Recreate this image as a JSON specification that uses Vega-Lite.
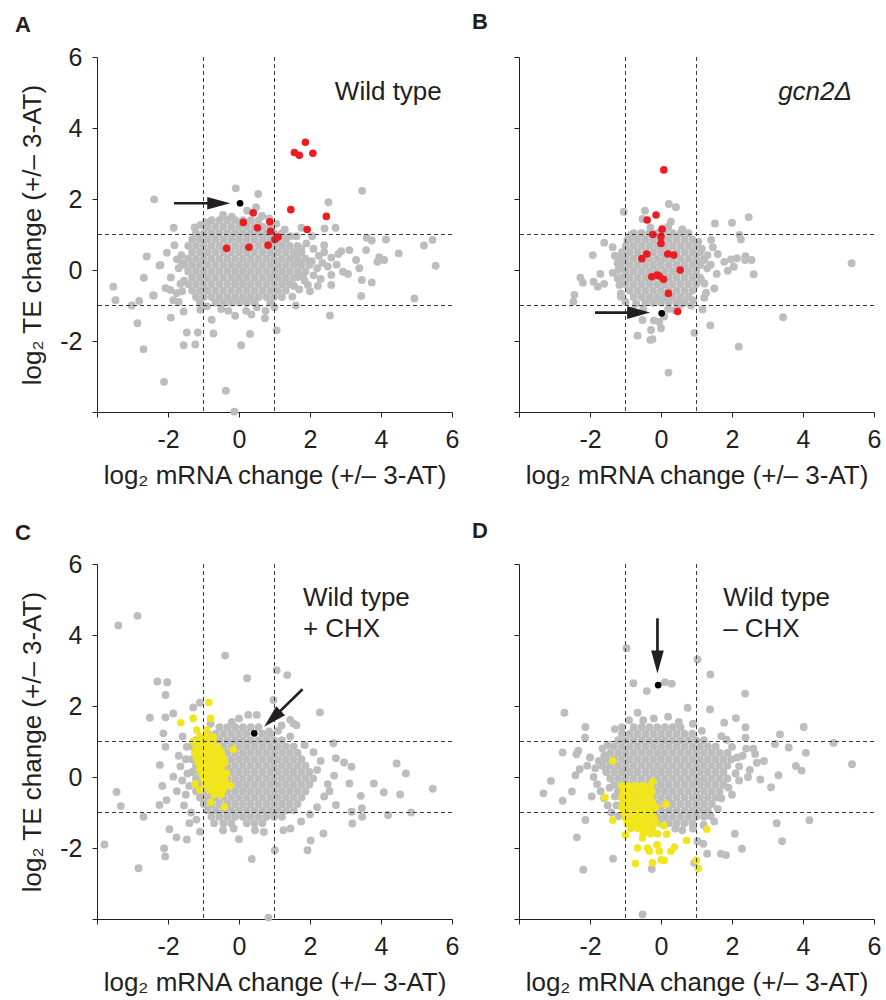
{
"$schema":"https://vega.github.io/schema/vega-lite/v6.json",
"padding":{"left":15,"top":10,"right":2,"bottom":2},
"columns":2,
"spacing":{"row":152,"column":67},
"bounds":"flush",
"config":{"view":{"stroke":null},"font":"Liberation Sans",
"axis":{"domainColor":"#231f20","tickColor":"#231f20","labelColor":"#231f20","titleColor":"#231f20","labelFont":"Liberation Sans","titleFont":"Liberation Sans","labelFontSize":25,"titleFontSize":26,"titleFontWeight":"normal","grid":false,"domainWidth":1,"tickWidth":1,"tickSize":5,"labelFlush":false,"labelOverlap":false}},
"datasets":{
"a":[{"x":-0.77,"y":1.4},{"x":-0.55,"y":1.4},{"x":-0.33,"y":1.4},{"x":-0.11,"y":1.4},{"x":0.11,"y":1.4},{"x":0.33,"y":1.4},{"x":0.55,"y":1.4},
{"x":-0.88,"y":1.22},{"x":-0.66,"y":1.22},{"x":-0.44,"y":1.22},{"x":-0.22,"y":1.22},{"x":0,"y":1.22},{"x":0.22,"y":1.22},{"x":0.44,"y":1.22},{"x":0.66,"y":1.22},{"x":0.88,"y":1.22},
{"x":-1.21,"y":1.04},{"x":-0.99,"y":1.04},{"x":-0.77,"y":1.04},{"x":-0.55,"y":1.04},{"x":-0.33,"y":1.04},{"x":-0.11,"y":1.04},{"x":0.11,"y":1.04},{"x":0.33,"y":1.04},{"x":0.55,"y":1.04},{"x":0.77,"y":1.04},{"x":0.99,"y":1.04},{"x":1.21,"y":1.04},
{"x":-1.32,"y":0.86},{"x":-1.1,"y":0.86},{"x":-0.88,"y":0.86},{"x":-0.66,"y":0.86},{"x":-0.44,"y":0.86},{"x":-0.22,"y":0.86},{"x":0,"y":0.86},{"x":0.22,"y":0.86},{"x":0.44,"y":0.86},{"x":0.66,"y":0.86},{"x":0.88,"y":0.86},{"x":1.1,"y":0.86},{"x":1.32,"y":0.86},
{"x":-1.43,"y":0.68},{"x":-1.21,"y":0.68},{"x":-0.99,"y":0.68},{"x":-0.77,"y":0.68},{"x":-0.55,"y":0.68},{"x":-0.33,"y":0.68},{"x":-0.11,"y":0.68},{"x":0.11,"y":0.68},{"x":0.33,"y":0.68},{"x":0.55,"y":0.68},{"x":0.77,"y":0.68},{"x":0.99,"y":0.68},{"x":1.21,"y":0.68},{"x":1.43,"y":0.68},{"x":1.65,"y":0.68},
{"x":-1.32,"y":0.5},{"x":-1.1,"y":0.5},{"x":-0.88,"y":0.5},{"x":-0.66,"y":0.5},{"x":-0.44,"y":0.5},{"x":-0.22,"y":0.5},{"x":0,"y":0.5},{"x":0.22,"y":0.5},{"x":0.44,"y":0.5},{"x":0.66,"y":0.5},{"x":0.88,"y":0.5},{"x":1.1,"y":0.5},{"x":1.32,"y":0.5},{"x":1.54,"y":0.5},{"x":1.76,"y":0.5},
{"x":-1.43,"y":0.32},{"x":-1.21,"y":0.32},{"x":-0.99,"y":0.32},{"x":-0.77,"y":0.32},{"x":-0.55,"y":0.32},{"x":-0.33,"y":0.32},{"x":-0.11,"y":0.32},{"x":0.11,"y":0.32},{"x":0.33,"y":0.32},{"x":0.55,"y":0.32},{"x":0.77,"y":0.32},{"x":0.99,"y":0.32},{"x":1.21,"y":0.32},{"x":1.43,"y":0.32},{"x":1.65,"y":0.32},{"x":1.87,"y":0.32},
{"x":-1.54,"y":0.14},{"x":-1.32,"y":0.14},{"x":-1.1,"y":0.14},{"x":-0.88,"y":0.14},{"x":-0.66,"y":0.14},{"x":-0.44,"y":0.14},{"x":-0.22,"y":0.14},{"x":0,"y":0.14},{"x":0.22,"y":0.14},{"x":0.44,"y":0.14},{"x":0.66,"y":0.14},{"x":0.88,"y":0.14},{"x":1.1,"y":0.14},{"x":1.32,"y":0.14},{"x":1.54,"y":0.14},{"x":1.76,"y":0.14},{"x":1.98,"y":0.14},
{"x":-1.43,"y":-0.04},{"x":-1.21,"y":-0.04},{"x":-0.99,"y":-0.04},{"x":-0.77,"y":-0.04},{"x":-0.55,"y":-0.04},{"x":-0.33,"y":-0.04},{"x":-0.11,"y":-0.04},{"x":0.11,"y":-0.04},{"x":0.33,"y":-0.04},{"x":0.55,"y":-0.04},{"x":0.77,"y":-0.04},{"x":0.99,"y":-0.04},{"x":1.21,"y":-0.04},{"x":1.43,"y":-0.04},{"x":1.65,"y":-0.04},{"x":1.87,"y":-0.04},
{"x":-1.32,"y":-0.22},{"x":-1.1,"y":-0.22},{"x":-0.88,"y":-0.22},{"x":-0.66,"y":-0.22},{"x":-0.44,"y":-0.22},{"x":-0.22,"y":-0.22},{"x":0,"y":-0.22},{"x":0.22,"y":-0.22},{"x":0.44,"y":-0.22},{"x":0.66,"y":-0.22},{"x":0.88,"y":-0.22},{"x":1.1,"y":-0.22},{"x":1.32,"y":-0.22},{"x":1.54,"y":-0.22},
{"x":-1.43,"y":-0.4},{"x":-1.21,"y":-0.4},{"x":-0.99,"y":-0.4},{"x":-0.77,"y":-0.4},{"x":-0.55,"y":-0.4},{"x":-0.33,"y":-0.4},{"x":-0.11,"y":-0.4},{"x":0.11,"y":-0.4},{"x":0.33,"y":-0.4},{"x":0.55,"y":-0.4},{"x":0.77,"y":-0.4},{"x":0.99,"y":-0.4},{"x":1.21,"y":-0.4},{"x":1.43,"y":-0.4},
{"x":-1.32,"y":-0.58},{"x":-1.1,"y":-0.58},{"x":-0.88,"y":-0.58},{"x":-0.66,"y":-0.58},{"x":-0.44,"y":-0.58},{"x":-0.22,"y":-0.58},{"x":0,"y":-0.58},{"x":0.22,"y":-0.58},{"x":0.44,"y":-0.58},{"x":0.66,"y":-0.58},{"x":0.88,"y":-0.58},{"x":1.1,"y":-0.58},{"x":1.32,"y":-0.58},
{"x":-1.21,"y":-0.76},{"x":-0.99,"y":-0.76},{"x":-0.77,"y":-0.76},{"x":-0.55,"y":-0.76},{"x":-0.33,"y":-0.76},{"x":-0.11,"y":-0.76},{"x":0.11,"y":-0.76},{"x":0.33,"y":-0.76},{"x":0.55,"y":-0.76},{"x":0.77,"y":-0.76},{"x":0.99,"y":-0.76},{"x":1.21,"y":-0.76},
{"x":-1.1,"y":-0.92},{"x":-0.66,"y":-0.92},{"x":-0.44,"y":-0.92},{"x":-0.22,"y":-0.92},{"x":0,"y":-0.92},{"x":0.22,"y":-0.92},{"x":0.44,"y":-0.92},{"x":0.88,"y":-0.92},
{"x":-0.09,"y":2.3},{"x":0.54,"y":2.14},{"x":-2.39,"y":1.99},{"x":3.47,"y":2.23},{"x":2.52,"y":1.91},{"x":0.48,"y":1.77},{"x":0.23,"y":1.67},{"x":0.65,"y":1.52},{"x":-1.84,"y":1.19},{"x":-1.09,"y":1.26},{"x":-0.45,"y":1.55},{"x":-0.2,"y":1.5},{"x":1.05,"y":1.3},{"x":1.29,"y":1.14},{"x":1.76,"y":1.19},{"x":2.41,"y":1.17},{"x":2.72,"y":1.19},{"x":1.62,"y":0.95},{"x":2.06,"y":0.95},{"x":1.45,"y":0.95},{"x":3.6,"y":0.91},{"x":3.74,"y":0.83},{"x":4.14,"y":0.86},{"x":5.21,"y":0.69},{"x":5.45,"y":0.85},{"x":5.54,"y":0.12},{"x":4.5,"y":0.47},{"x":3.95,"y":0.36},{"x":4.09,"y":0.28},{"x":3.9,"y":0.23},{"x":3.58,"y":0.56},{"x":3.11,"y":0.56},{"x":2.88,"y":0.53},{"x":3.3,"y":0.28},{"x":3.39,"y":0.05},{"x":3.07,"y":-0.11},{"x":2.93,"y":-0.05},{"x":2.6,"y":-0.14},{"x":2.6,"y":-0.42},{"x":3.46,"y":-0.28},{"x":3.74,"y":-0.35},{"x":3.44,"y":-0.73},{"x":4.94,"y":-0.8},{"x":2.56,"y":-1.28},{"x":2.22,"y":-0.45},{"x":1.94,"y":-0.42},{"x":1.6,"y":-1.0},{"x":1.9,"y":0.75},{"x":2.1,"y":0.6},{"x":2.25,"y":0.4},{"x":2.35,"y":0.2},{"x":2.2,"y":0.05},{"x":2.1,"y":-0.15},{"x":1.85,"y":-0.3},{"x":1.7,"y":-0.55},{"x":2.4,"y":0.5},{"x":2.6,"y":0.35},{"x":2.75,"y":0.15},{"x":2.5,"y":0.1},{"x":2.05,"y":0.25},{"x":1.8,"y":-0.15},{"x":2.0,"y":-0.6},{"x":1.5,"y":-0.75},{"x":2.3,"y":-0.25},{"x":2.8,"y":0.45},{"x":2.4,"y":0.7},{"x":1.75,"y":0.6},
{"x":-2.6,"y":0.38},{"x":-2.68,"y":-0.22},{"x":-3.54,"y":-0.47},{"x":-3.48,"y":-0.85},{"x":-3.02,"y":-1.0},{"x":-2.81,"y":-0.87},{"x":-2.42,"y":-0.72},{"x":-2.24,"y":0.13},{"x":-2.03,"y":0.49},{"x":-1.82,"y":0.7},{"x":-2.21,"y":0.14},{"x":-2.4,"y":-0.72},{"x":-2.07,"y":-0.51},{"x":-1.93,"y":-0.56},{"x":-1.75,"y":-0.65},{"x":-1.92,"y":-0.21},{"x":-1.7,"y":0.05},{"x":-1.65,"y":-0.39},{"x":-1.56,"y":-1.17},{"x":-1.92,"y":-1.34},{"x":-1.09,"y":-1.12},{"x":-0.77,"y":-1.4},{"x":-0.72,"y":-1.79},{"x":-1.47,"y":-1.76},{"x":-1.16,"y":-1.76},{"x":-1.56,"y":-2.12},{"x":-1.23,"y":-2.1},{"x":-2.86,"y":-1.5},{"x":-2.69,"y":-2.23},{"x":-2.11,"y":-3.15},{"x":-0.37,"y":-3.4},{"x":-0.13,"y":-3.99},{"x":-0.11,"y":-1.29},{"x":0.31,"y":-1.8},{"x":0.73,"y":-1.36},{"x":1.06,"y":-1.7},{"x":0.06,"y":-2.12},{"x":-1.62,"y":0.42},{"x":-1.6,"y":0.2},{"x":-1.75,"y":0.3},{"x":-1.55,"y":-0.3},{"x":-1.7,"y":-0.9},{"x":-1.85,"y":-0.85},{"x":-1.6,"y":-0.6},{"x":-0.5,"y":-1.1},{"x":0.2,"y":-1.15},{"x":0.5,"y":-1.05},{"x":0.75,"y":-1.15},{"x":-0.9,"y":-1.02},{"x":1.0,"y":-1.05},{"x":0.35,"y":-1.25},{"x":-0.3,"y":-1.15},{"x":-0.95,"y":1.35},{"x":0.85,"y":1.45},{"x":1.3,"y":0.9},{"x":-1.25,"y":1.2},{"x":1.55,"y":-0.45},{"x":1.6,"y":0.4},{"x":1.7,"y":0.2},{"x":1.65,"y":-0.2},
{"x":0.4,"y":1.61,"c":"r"},{"x":0.12,"y":1.34,"c":"r"},{"x":0.52,"y":1.19,"c":"r"},{"x":0.87,"y":1.36,"c":"r"},{"x":0.89,"y":1.09,"c":"r"},{"x":-0.35,"y":0.61,"c":"r"},{"x":0.28,"y":0.64,"c":"r"},{"x":0.82,"y":0.7,"c":"r"},{"x":1.01,"y":0.86,"c":"r"},{"x":1.1,"y":0.93,"c":"r"},{"x":1.46,"y":1.7,"c":"r"},{"x":1.92,"y":1.14,"c":"r"},{"x":2.46,"y":1.51,"c":"r"},{"x":1.56,"y":3.31,"c":"r"},{"x":1.7,"y":3.23,"c":"r"},{"x":1.87,"y":3.6,"c":"r"},{"x":2.08,"y":3.29,"c":"r"},
{"x":0.03,"y":1.88,"c":"k"}],
"b":[{"x":-0.77,"y":1.04},{"x":-0.55,"y":1.04},{"x":-0.33,"y":1.04},{"x":-0.11,"y":1.04},{"x":0.11,"y":1.04},{"x":0.33,"y":1.04},{"x":0.55,"y":1.04},{"x":0.77,"y":1.04},
{"x":-0.88,"y":0.86},{"x":-0.66,"y":0.86},{"x":-0.44,"y":0.86},{"x":-0.22,"y":0.86},{"x":0,"y":0.86},{"x":0.22,"y":0.86},{"x":0.44,"y":0.86},{"x":0.66,"y":0.86},{"x":0.88,"y":0.86},
{"x":-0.99,"y":0.68},{"x":-0.77,"y":0.68},{"x":-0.55,"y":0.68},{"x":-0.33,"y":0.68},{"x":-0.11,"y":0.68},{"x":0.11,"y":0.68},{"x":0.33,"y":0.68},{"x":0.55,"y":0.68},{"x":0.77,"y":0.68},{"x":0.99,"y":0.68},
{"x":-1.1,"y":0.5},{"x":-0.88,"y":0.5},{"x":-0.66,"y":0.5},{"x":-0.44,"y":0.5},{"x":-0.22,"y":0.5},{"x":0,"y":0.5},{"x":0.22,"y":0.5},{"x":0.44,"y":0.5},{"x":0.66,"y":0.5},{"x":0.88,"y":0.5},{"x":1.1,"y":0.5},
{"x":-1.21,"y":0.32},{"x":-0.99,"y":0.32},{"x":-0.77,"y":0.32},{"x":-0.55,"y":0.32},{"x":-0.33,"y":0.32},{"x":-0.11,"y":0.32},{"x":0.11,"y":0.32},{"x":0.33,"y":0.32},{"x":0.55,"y":0.32},{"x":0.77,"y":0.32},{"x":0.99,"y":0.32},{"x":1.21,"y":0.32},
{"x":-1.1,"y":0.14},{"x":-0.88,"y":0.14},{"x":-0.66,"y":0.14},{"x":-0.44,"y":0.14},{"x":-0.22,"y":0.14},{"x":0,"y":0.14},{"x":0.22,"y":0.14},{"x":0.44,"y":0.14},{"x":0.66,"y":0.14},{"x":0.88,"y":0.14},{"x":1.1,"y":0.14},
{"x":-0.99,"y":-0.04},{"x":-0.77,"y":-0.04},{"x":-0.55,"y":-0.04},{"x":-0.33,"y":-0.04},{"x":-0.11,"y":-0.04},{"x":0.11,"y":-0.04},{"x":0.33,"y":-0.04},{"x":0.55,"y":-0.04},{"x":0.77,"y":-0.04},{"x":0.99,"y":-0.04},
{"x":-1.1,"y":-0.22},{"x":-0.88,"y":-0.22},{"x":-0.66,"y":-0.22},{"x":-0.44,"y":-0.22},{"x":-0.22,"y":-0.22},{"x":0,"y":-0.22},{"x":0.22,"y":-0.22},{"x":0.44,"y":-0.22},{"x":0.66,"y":-0.22},{"x":0.88,"y":-0.22},{"x":1.1,"y":-0.22},
{"x":-0.99,"y":-0.4},{"x":-0.77,"y":-0.4},{"x":-0.55,"y":-0.4},{"x":-0.33,"y":-0.4},{"x":-0.11,"y":-0.4},{"x":0.11,"y":-0.4},{"x":0.33,"y":-0.4},{"x":0.55,"y":-0.4},{"x":0.77,"y":-0.4},{"x":0.99,"y":-0.4},
{"x":-0.88,"y":-0.58},{"x":-0.66,"y":-0.58},{"x":-0.44,"y":-0.58},{"x":-0.22,"y":-0.58},{"x":0,"y":-0.58},{"x":0.22,"y":-0.58},{"x":0.44,"y":-0.58},{"x":0.66,"y":-0.58},{"x":0.88,"y":-0.58},
{"x":-0.77,"y":-0.76},{"x":-0.55,"y":-0.76},{"x":-0.33,"y":-0.76},{"x":-0.11,"y":-0.76},{"x":0.11,"y":-0.76},{"x":0.33,"y":-0.76},{"x":0.55,"y":-0.76},{"x":0.77,"y":-0.76},
{"x":-0.44,"y":-0.92},{"x":-0.22,"y":-0.92},{"x":0,"y":-0.92},{"x":0.22,"y":-0.92},{"x":0.44,"y":-0.92},{"x":0.66,"y":-0.92},
{"x":-1.05,"y":1.64},{"x":-0.45,"y":1.67},{"x":-0.52,"y":1.44},{"x":0.22,"y":1.86},{"x":0.42,"y":1.77},{"x":0.28,"y":1.36},{"x":1.52,"y":1.31},{"x":2.0,"y":1.33},{"x":2.47,"y":1.49},{"x":2.21,"y":0.99},{"x":2.25,"y":0.86},{"x":-1.6,"y":0.77},{"x":-1.36,"y":0.64},{"x":-1.92,"y":0.42},{"x":-0.85,"y":0.99},{"x":-0.56,"y":1.03},{"x":-0.3,"y":1.2},{"x":0.6,"y":1.15},{"x":0.2,"y":1.22},{"x":1.41,"y":0.85},{"x":1.46,"y":0.64},{"x":1.31,"y":0.42},{"x":1.6,"y":0.45},{"x":1.78,"y":0.23},{"x":1.97,"y":0.3},{"x":2.14,"y":0.33},{"x":2.38,"y":0.39},{"x":2.55,"y":0.28},{"x":2.37,"y":0.28},{"x":5.37,"y":0.19},{"x":2.61,"y":-0.12},{"x":1.88,"y":-0.02},{"x":2.05,"y":0.09},{"x":1.57,"y":-0.11},{"x":1.3,"y":0.05},{"x":1.4,"y":0.15},{"x":1.5,"y":-0.52},{"x":1.27,"y":-0.64},{"x":1.22,"y":-0.78},{"x":1.17,"y":-1.11},{"x":1.39,"y":-1.56},{"x":0.94,"y":-1.77},{"x":2.19,"y":-2.16},{"x":3.44,"y":-1.33},{"x":0.21,"y":-2.89},{"x":-0.3,"y":-1.97},{"x":-0.24,"y":-1.95},{"x":-0.66,"y":-1.85},{"x":-0.28,"y":-1.69},{"x":0.0,"y":-1.64},{"x":-0.05,"y":-1.46},{"x":-0.52,"y":-1.41},{"x":-0.2,"y":-1.42},{"x":0.09,"y":-1.31},{"x":0.38,"y":-1.13},{"x":-0.8,"y":-1.13},{"x":-0.5,"y":-1.1},{"x":0.2,"y":-1.1},{"x":-2.27,"y":-0.22},{"x":-2.2,"y":-0.36},{"x":-2.44,"y":-0.7},{"x":-2.47,"y":-0.89},{"x":-1.9,"y":-0.33},{"x":-1.78,"y":-0.47},{"x":-1.6,"y":-0.39},{"x":-1.71,"y":-0.11},{"x":-1.36,"y":-0.08},{"x":-1.22,"y":-0.23},{"x":-1.17,"y":-0.42},{"x":-1.13,"y":-0.66},{"x":-1.13,"y":-0.75},{"x":-1.22,"y":0.19},{"x":-1.08,"y":0.33},{"x":-1.3,"y":0.4},{"x":-1.2,"y":0.0},{"x":1.08,"y":0.14},{"x":1.22,"y":0.28},{"x":1.13,"y":-0.28},{"x":1.22,"y":-0.38},{"x":1.15,"y":0.6},{"x":1.05,"y":0.8},{"x":-0.95,"y":0.85},{"x":-1.0,"y":-0.9},{"x":0.9,"y":-0.85},{"x":0.85,"y":-1.0},{"x":-0.7,"y":-0.95},{"x":0.55,"y":-0.98},
{"x":0.08,"y":2.82,"c":"r"},{"x":-0.14,"y":1.55,"c":"r"},{"x":-0.39,"y":1.41,"c":"r"},{"x":0.03,"y":1.15,"c":"r"},{"x":-0.23,"y":1.0,"c":"r"},{"x":0,"y":0.94,"c":"r"},{"x":0,"y":0.75,"c":"r"},{"x":-0.54,"y":0.32,"c":"r"},{"x":-0.4,"y":0.45,"c":"r"},{"x":0.19,"y":0.45,"c":"r"},{"x":0.36,"y":0.42,"c":"r"},{"x":0.54,"y":0.0,"c":"r"},{"x":-0.26,"y":-0.19,"c":"r"},{"x":-0.11,"y":-0.14,"c":"r"},{"x":-0.05,"y":-0.17,"c":"r"},{"x":0.07,"y":-0.26,"c":"r"},{"x":0.21,"y":-0.66,"c":"r"},{"x":0.47,"y":-1.17,"c":"r"},
{"x":0.02,"y":-1.22,"c":"k"}],
"c":[{"x":-0.55,"y":1.4},{"x":-0.33,"y":1.4},{"x":-0.11,"y":1.4},{"x":0.11,"y":1.4},{"x":0.33,"y":1.4},{"x":0.55,"y":1.4},
{"x":-0.88,"y":1.22},{"x":-0.66,"y":1.22},{"x":-0.44,"y":1.22},{"x":-0.22,"y":1.22},{"x":0,"y":1.22},{"x":0.22,"y":1.22},{"x":0.66,"y":1.22},{"x":0.88,"y":1.22},
{"x":-1.21,"y":1.04},{"x":-0.99,"y":1.04},{"x":-0.77,"y":1.04},{"x":-0.55,"y":1.04},{"x":-0.33,"y":1.04},{"x":-0.11,"y":1.04},{"x":0.11,"y":1.04},{"x":0.33,"y":1.04},{"x":0.55,"y":1.04},{"x":0.77,"y":1.04},{"x":0.99,"y":1.04},{"x":1.21,"y":1.04},
{"x":-1.32,"y":0.86},{"x":-1.1,"y":0.86},{"x":-0.88,"y":0.86},{"x":-0.66,"y":0.86},{"x":-0.44,"y":0.86},{"x":-0.22,"y":0.86},{"x":0,"y":0.86},{"x":0.22,"y":0.86},{"x":0.44,"y":0.86},{"x":0.66,"y":0.86},{"x":0.88,"y":0.86},{"x":1.1,"y":0.86},{"x":1.32,"y":0.86},{"x":1.54,"y":0.86},
{"x":-1.21,"y":0.68},{"x":-0.99,"y":0.68},{"x":-0.77,"y":0.68},{"x":-0.55,"y":0.68},{"x":-0.33,"y":0.68},{"x":-0.11,"y":0.68},{"x":0.11,"y":0.68},{"x":0.33,"y":0.68},{"x":0.55,"y":0.68},{"x":0.77,"y":0.68},{"x":0.99,"y":0.68},{"x":1.21,"y":0.68},{"x":1.43,"y":0.68},{"x":1.65,"y":0.68},
{"x":-1.32,"y":0.5},{"x":-1.1,"y":0.5},{"x":-0.88,"y":0.5},{"x":-0.66,"y":0.5},{"x":-0.44,"y":0.5},{"x":-0.22,"y":0.5},{"x":0,"y":0.5},{"x":0.22,"y":0.5},{"x":0.44,"y":0.5},{"x":0.66,"y":0.5},{"x":0.88,"y":0.5},{"x":1.1,"y":0.5},{"x":1.32,"y":0.5},{"x":1.54,"y":0.5},{"x":1.76,"y":0.5},
{"x":-1.21,"y":0.32},{"x":-0.99,"y":0.32},{"x":-0.77,"y":0.32},{"x":-0.55,"y":0.32},{"x":-0.33,"y":0.32},{"x":-0.11,"y":0.32},{"x":0.11,"y":0.32},{"x":0.33,"y":0.32},{"x":0.55,"y":0.32},{"x":0.77,"y":0.32},{"x":0.99,"y":0.32},{"x":1.21,"y":0.32},{"x":1.43,"y":0.32},{"x":1.65,"y":0.32},{"x":1.87,"y":0.32},
{"x":-1.32,"y":0.14},{"x":-1.1,"y":0.14},{"x":-0.88,"y":0.14},{"x":-0.66,"y":0.14},{"x":-0.44,"y":0.14},{"x":-0.22,"y":0.14},{"x":0,"y":0.14},{"x":0.22,"y":0.14},{"x":0.44,"y":0.14},{"x":0.66,"y":0.14},{"x":0.88,"y":0.14},{"x":1.1,"y":0.14},{"x":1.32,"y":0.14},{"x":1.54,"y":0.14},{"x":1.76,"y":0.14},{"x":1.98,"y":0.14},
{"x":-1.21,"y":-0.04},{"x":-0.99,"y":-0.04},{"x":-0.77,"y":-0.04},{"x":-0.55,"y":-0.04},{"x":-0.33,"y":-0.04},{"x":-0.11,"y":-0.04},{"x":0.11,"y":-0.04},{"x":0.33,"y":-0.04},{"x":0.55,"y":-0.04},{"x":0.77,"y":-0.04},{"x":0.99,"y":-0.04},{"x":1.21,"y":-0.04},{"x":1.43,"y":-0.04},{"x":1.65,"y":-0.04},{"x":1.87,"y":-0.04},{"x":2.09,"y":-0.04},
{"x":-1.1,"y":-0.22},{"x":-0.88,"y":-0.22},{"x":-0.66,"y":-0.22},{"x":-0.44,"y":-0.22},{"x":-0.22,"y":-0.22},{"x":0,"y":-0.22},{"x":0.22,"y":-0.22},{"x":0.44,"y":-0.22},{"x":0.66,"y":-0.22},{"x":0.88,"y":-0.22},{"x":1.1,"y":-0.22},{"x":1.32,"y":-0.22},{"x":1.54,"y":-0.22},{"x":1.76,"y":-0.22},{"x":1.98,"y":-0.22},
{"x":-1.21,"y":-0.4},{"x":-0.99,"y":-0.4},{"x":-0.77,"y":-0.4},{"x":-0.55,"y":-0.4},{"x":-0.33,"y":-0.4},{"x":-0.11,"y":-0.4},{"x":0.11,"y":-0.4},{"x":0.33,"y":-0.4},{"x":0.55,"y":-0.4},{"x":0.77,"y":-0.4},{"x":0.99,"y":-0.4},{"x":1.21,"y":-0.4},{"x":1.43,"y":-0.4},{"x":1.65,"y":-0.4},{"x":1.87,"y":-0.4},
{"x":-1.1,"y":-0.58},{"x":-0.88,"y":-0.58},{"x":-0.66,"y":-0.58},{"x":-0.44,"y":-0.58},{"x":-0.22,"y":-0.58},{"x":0,"y":-0.58},{"x":0.22,"y":-0.58},{"x":0.44,"y":-0.58},{"x":0.66,"y":-0.58},{"x":0.88,"y":-0.58},{"x":1.1,"y":-0.58},{"x":1.32,"y":-0.58},{"x":1.54,"y":-0.58},{"x":1.76,"y":-0.58},
{"x":-0.99,"y":-0.76},{"x":-0.77,"y":-0.76},{"x":-0.55,"y":-0.76},{"x":-0.33,"y":-0.76},{"x":-0.11,"y":-0.76},{"x":0.11,"y":-0.76},{"x":0.33,"y":-0.76},{"x":0.55,"y":-0.76},{"x":0.77,"y":-0.76},{"x":0.99,"y":-0.76},{"x":1.21,"y":-0.76},{"x":1.43,"y":-0.76},{"x":1.65,"y":-0.76},
{"x":-0.88,"y":-0.94},{"x":-0.66,"y":-0.94},{"x":-0.44,"y":-0.94},{"x":-0.22,"y":-0.94},{"x":0,"y":-0.94},{"x":0.22,"y":-0.94},{"x":0.44,"y":-0.94},{"x":0.66,"y":-0.94},{"x":0.88,"y":-0.94},{"x":1.1,"y":-0.94},{"x":1.32,"y":-0.94},{"x":1.54,"y":-0.94},
{"x":-0.77,"y":-1.12},{"x":-0.55,"y":-1.12},{"x":-0.33,"y":-1.12},{"x":-0.11,"y":-1.12},{"x":0.11,"y":-1.12},{"x":0.33,"y":-1.12},{"x":0.55,"y":-1.12},{"x":0.77,"y":-1.12},{"x":0.99,"y":-1.12},{"x":1.21,"y":-1.12},
{"x":-0.44,"y":-1.3},{"x":-0.22,"y":-1.3},{"x":0.22,"y":-1.3},{"x":0.44,"y":-1.3},{"x":0.66,"y":-1.3},
{"x":-2.86,"y":4.54},{"x":-3.4,"y":4.27},{"x":-0.39,"y":3.42},{"x":0.23,"y":2.78},{"x":1.06,"y":3.01},{"x":1.36,"y":2.87},{"x":-2.3,"y":2.69},{"x":-2.02,"y":2.67},{"x":-2.07,"y":2.31},{"x":0.97,"y":2.17},{"x":2.28,"y":1.82},{"x":-2.51,"y":1.67},{"x":-2.07,"y":1.68},{"x":-1.85,"y":1.79},{"x":-1.29,"y":1.96},{"x":-1.1,"y":2.09},{"x":0.0,"y":1.65},{"x":0.26,"y":1.75},{"x":0.5,"y":1.75},{"x":1.44,"y":1.61},{"x":1.53,"y":1.51},{"x":1.62,"y":1.46},{"x":0.85,"y":1.28},{"x":1.44,"y":1.14},{"x":1.1,"y":1.3},{"x":-0.2,"y":1.55},{"x":2.66,"y":0.95},{"x":2.73,"y":0.53},{"x":2.96,"y":0.41},{"x":3.17,"y":0.29},{"x":4.44,"y":0.38},{"x":4.7,"y":0.1},{"x":5.46,"y":-0.33},{"x":4.54,"y":-0.49},{"x":4.08,"y":-0.43},{"x":3.8,"y":-0.18},{"x":3.43,"y":-0.53},{"x":3.46,"y":-0.88},{"x":3.47,"y":-1.12},{"x":3.19,"y":-1.31},{"x":3.17,"y":-0.98},{"x":4.2,"y":-1.07},{"x":4.85,"y":-1.0},{"x":3.11,"y":-0.18},{"x":2.68,"y":0.04},{"x":2.5,"y":-0.2},{"x":2.55,"y":-0.4},{"x":2.4,"y":-0.55},{"x":2.73,"y":-0.79},{"x":2.38,"y":-1.59},{"x":2.02,"y":-1.79},{"x":1.93,"y":-2.06},{"x":1.01,"y":-2.06},{"x":0.36,"y":-2.31},{"x":0.0,"y":-1.75},{"x":0.83,"y":-3.96},{"x":-3.79,"y":-1.9},{"x":-3.45,"y":-0.42},{"x":-3.33,"y":-0.82},{"x":-2.69,"y":-1.12},{"x":-2.83,"y":-2.57},{"x":-2.11,"y":-2.01},{"x":-2.08,"y":-2.24},{"x":-1.76,"y":-1.7},{"x":-1.96,"y":-1.47},{"x":-1.47,"y":-1.76},{"x":-1.1,"y":-1.54},{"x":-2.23,"y":0.34},{"x":-1.85,"y":0.01},{"x":-2.16,"y":-0.25},{"x":-2.04,"y":-0.65},{"x":-2.24,"y":-0.79},{"x":-1.47,"y":0.85},{"x":-1.59,"y":1.14},{"x":-2.07,"y":0.85},{"x":-2.13,"y":1.23},{"x":-1.65,"y":0.3},{"x":-1.6,"y":-0.1},{"x":-1.75,"y":-0.4},{"x":-1.5,"y":-0.5},{"x":-1.55,"y":-0.8},{"x":-1.35,"y":-1.0},{"x":-1.2,"y":-1.2},{"x":-1.4,"y":-1.3},{"x":-0.7,"y":-1.3},{"x":-0.45,"y":-1.5},{"x":-0.15,"y":-1.45},{"x":0.45,"y":-1.5},{"x":0.7,"y":-1.55},{"x":1.25,"y":-1.5},{"x":1.45,"y":-1.45},{"x":1.75,"y":-1.25},{"x":2.0,"y":-1.05},{"x":2.2,"y":-0.85},{"x":2.2,"y":0.2},{"x":2.3,"y":0.45},{"x":2.1,"y":0.7},{"x":1.85,"y":0.9},{"x":-1.5,"y":0.5},{"x":-1.45,"y":0.1},{"x":-1.4,"y":-0.25},{"x":-1.7,"y":0.6},{"x":1.2,"y":1.45},{"x":-0.8,"y":1.5},
{"x":-0.85,"y":2.1,"c":"y"},{"x":-1.64,"y":1.53,"c":"y"},{"x":-1.29,"y":1.65,"c":"y"},{"x":-0.8,"y":1.65,"c":"y"},{"x":-1.19,"y":1.32,"c":"y"},{"x":-0.91,"y":1.32,"c":"y"},{"x":-0.72,"y":1.12,"c":"y"},{"x":-1.29,"y":1.0,"c":"y"},{"x":-0.16,"y":0.78,"c":"y"},{"x":-0.8,"y":-0.72,"c":"y"},{"x":-0.41,"y":-0.84,"c":"y"},{"x":-1.24,"y":-0.2,"c":"y"},{"x":-0.25,"y":-0.25,"c":"y"},{"x":-1.1,"y":-0.37,"c":"y"},
{"x":-1.1,"y":1.15,"c":"y"},{"x":-0.9,"y":1.15,"c":"y"},{"x":-1.15,"y":1.0,"c":"y"},{"x":-0.95,"y":1.0,"c":"y"},{"x":-0.75,"y":1.0,"c":"y"},{"x":-1.2,"y":0.85,"c":"y"},{"x":-1.0,"y":0.85,"c":"y"},{"x":-0.8,"y":0.85,"c":"y"},{"x":-0.6,"y":0.85,"c":"y"},{"x":-1.25,"y":0.7,"c":"y"},{"x":-1.05,"y":0.7,"c":"y"},{"x":-0.85,"y":0.7,"c":"y"},{"x":-0.65,"y":0.7,"c":"y"},{"x":-0.5,"y":0.7,"c":"y"},{"x":-1.2,"y":0.55,"c":"y"},{"x":-1.0,"y":0.55,"c":"y"},{"x":-0.8,"y":0.55,"c":"y"},{"x":-0.6,"y":0.55,"c":"y"},{"x":-0.45,"y":0.55,"c":"y"},{"x":-1.15,"y":0.4,"c":"y"},{"x":-0.95,"y":0.4,"c":"y"},{"x":-0.75,"y":0.4,"c":"y"},{"x":-0.55,"y":0.4,"c":"y"},{"x":-0.4,"y":0.4,"c":"y"},{"x":-1.1,"y":0.25,"c":"y"},{"x":-0.9,"y":0.25,"c":"y"},{"x":-0.7,"y":0.25,"c":"y"},{"x":-0.5,"y":0.25,"c":"y"},{"x":-1.05,"y":0.1,"c":"y"},{"x":-0.85,"y":0.1,"c":"y"},{"x":-0.65,"y":0.1,"c":"y"},{"x":-0.45,"y":0.1,"c":"y"},{"x":-0.35,"y":0.1,"c":"y"},{"x":-1.0,"y":-0.05,"c":"y"},{"x":-0.8,"y":-0.05,"c":"y"},{"x":-0.6,"y":-0.05,"c":"y"},{"x":-0.4,"y":-0.05,"c":"y"},{"x":-0.95,"y":-0.2,"c":"y"},{"x":-0.75,"y":-0.2,"c":"y"},{"x":-0.55,"y":-0.2,"c":"y"},{"x":-0.35,"y":-0.2,"c":"y"},{"x":-0.85,"y":-0.35,"c":"y"},{"x":-0.65,"y":-0.35,"c":"y"},{"x":-0.45,"y":-0.35,"c":"y"},{"x":-0.7,"y":-0.5,"c":"y"},{"x":-0.5,"y":-0.5,"c":"y"},
{"x":0.43,"y":1.23,"c":"k"}],
"d":[{"x":-0.77,"y":1.4},{"x":-0.55,"y":1.4},{"x":-0.33,"y":1.4},{"x":-0.11,"y":1.4},{"x":0.11,"y":1.4},{"x":0.33,"y":1.4},{"x":0.55,"y":1.4},
{"x":-1.1,"y":1.22},{"x":-0.88,"y":1.22},{"x":-0.66,"y":1.22},{"x":-0.44,"y":1.22},{"x":-0.22,"y":1.22},{"x":0,"y":1.22},{"x":0.22,"y":1.22},{"x":0.44,"y":1.22},{"x":0.66,"y":1.22},{"x":0.88,"y":1.22},
{"x":-1.21,"y":1.04},{"x":-0.99,"y":1.04},{"x":-0.77,"y":1.04},{"x":-0.55,"y":1.04},{"x":-0.33,"y":1.04},{"x":-0.11,"y":1.04},{"x":0.11,"y":1.04},{"x":0.33,"y":1.04},{"x":0.55,"y":1.04},{"x":0.77,"y":1.04},{"x":0.99,"y":1.04},{"x":1.21,"y":1.04},
{"x":-1.32,"y":0.86},{"x":-1.1,"y":0.86},{"x":-0.88,"y":0.86},{"x":-0.66,"y":0.86},{"x":-0.44,"y":0.86},{"x":-0.22,"y":0.86},{"x":0,"y":0.86},{"x":0.22,"y":0.86},{"x":0.44,"y":0.86},{"x":0.66,"y":0.86},{"x":0.88,"y":0.86},{"x":1.1,"y":0.86},{"x":1.32,"y":0.86},{"x":1.54,"y":0.86},
{"x":-1.43,"y":0.68},{"x":-1.21,"y":0.68},{"x":-0.99,"y":0.68},{"x":-0.77,"y":0.68},{"x":-0.55,"y":0.68},{"x":-0.33,"y":0.68},{"x":-0.11,"y":0.68},{"x":0.11,"y":0.68},{"x":0.33,"y":0.68},{"x":0.55,"y":0.68},{"x":0.77,"y":0.68},{"x":0.99,"y":0.68},{"x":1.21,"y":0.68},{"x":1.43,"y":0.68},{"x":1.65,"y":0.68},{"x":1.87,"y":0.68},
{"x":-1.54,"y":0.5},{"x":-1.32,"y":0.5},{"x":-1.1,"y":0.5},{"x":-0.88,"y":0.5},{"x":-0.66,"y":0.5},{"x":-0.44,"y":0.5},{"x":-0.22,"y":0.5},{"x":0,"y":0.5},{"x":0.22,"y":0.5},{"x":0.44,"y":0.5},{"x":0.66,"y":0.5},{"x":0.88,"y":0.5},{"x":1.1,"y":0.5},{"x":1.32,"y":0.5},{"x":1.54,"y":0.5},{"x":1.76,"y":0.5},{"x":1.98,"y":0.5},
{"x":-1.65,"y":0.32},{"x":-1.43,"y":0.32},{"x":-1.21,"y":0.32},{"x":-0.99,"y":0.32},{"x":-0.77,"y":0.32},{"x":-0.55,"y":0.32},{"x":-0.33,"y":0.32},{"x":-0.11,"y":0.32},{"x":0.11,"y":0.32},{"x":0.33,"y":0.32},{"x":0.55,"y":0.32},{"x":0.77,"y":0.32},{"x":0.99,"y":0.32},{"x":1.21,"y":0.32},{"x":1.43,"y":0.32},{"x":1.65,"y":0.32},{"x":1.87,"y":0.32},
{"x":-1.54,"y":0.14},{"x":-1.32,"y":0.14},{"x":-1.1,"y":0.14},{"x":-0.88,"y":0.14},{"x":-0.66,"y":0.14},{"x":-0.44,"y":0.14},{"x":-0.22,"y":0.14},{"x":0,"y":0.14},{"x":0.22,"y":0.14},{"x":0.44,"y":0.14},{"x":0.66,"y":0.14},{"x":0.88,"y":0.14},{"x":1.1,"y":0.14},{"x":1.32,"y":0.14},{"x":1.54,"y":0.14},{"x":1.76,"y":0.14},
{"x":-1.43,"y":-0.04},{"x":-1.21,"y":-0.04},{"x":-0.99,"y":-0.04},{"x":-0.77,"y":-0.04},{"x":-0.55,"y":-0.04},{"x":-0.33,"y":-0.04},{"x":-0.11,"y":-0.04},{"x":0.11,"y":-0.04},{"x":0.33,"y":-0.04},{"x":0.55,"y":-0.04},{"x":0.77,"y":-0.04},{"x":0.99,"y":-0.04},{"x":1.21,"y":-0.04},{"x":1.43,"y":-0.04},{"x":1.65,"y":-0.04},{"x":1.87,"y":-0.04},
{"x":-1.32,"y":-0.22},{"x":-1.1,"y":-0.22},{"x":-0.88,"y":-0.22},{"x":-0.66,"y":-0.22},{"x":-0.44,"y":-0.22},{"x":-0.22,"y":-0.22},{"x":0,"y":-0.22},{"x":0.22,"y":-0.22},{"x":0.44,"y":-0.22},{"x":0.66,"y":-0.22},{"x":0.88,"y":-0.22},{"x":1.1,"y":-0.22},{"x":1.32,"y":-0.22},{"x":1.54,"y":-0.22},{"x":1.76,"y":-0.22},
{"x":-1.21,"y":-0.4},{"x":-0.99,"y":-0.4},{"x":-0.77,"y":-0.4},{"x":-0.55,"y":-0.4},{"x":-0.33,"y":-0.4},{"x":-0.11,"y":-0.4},{"x":0.11,"y":-0.4},{"x":0.33,"y":-0.4},{"x":0.55,"y":-0.4},{"x":0.77,"y":-0.4},{"x":0.99,"y":-0.4},{"x":1.21,"y":-0.4},{"x":1.43,"y":-0.4},{"x":1.65,"y":-0.4},
{"x":-1.1,"y":-0.58},{"x":-0.88,"y":-0.58},{"x":-0.66,"y":-0.58},{"x":-0.44,"y":-0.58},{"x":-0.22,"y":-0.58},{"x":0,"y":-0.58},{"x":0.22,"y":-0.58},{"x":0.44,"y":-0.58},{"x":0.66,"y":-0.58},{"x":0.88,"y":-0.58},{"x":1.1,"y":-0.58},{"x":1.32,"y":-0.58},{"x":1.54,"y":-0.58},
{"x":-0.99,"y":-0.76},{"x":-0.77,"y":-0.76},{"x":-0.55,"y":-0.76},{"x":-0.33,"y":-0.76},{"x":-0.11,"y":-0.76},{"x":0.11,"y":-0.76},{"x":0.33,"y":-0.76},{"x":0.55,"y":-0.76},{"x":0.77,"y":-0.76},{"x":0.99,"y":-0.76},{"x":1.21,"y":-0.76},{"x":1.43,"y":-0.76},
{"x":-0.88,"y":-0.94},{"x":-0.66,"y":-0.94},{"x":-0.44,"y":-0.94},{"x":-0.22,"y":-0.94},{"x":0,"y":-0.94},{"x":0.22,"y":-0.94},{"x":0.44,"y":-0.94},{"x":0.66,"y":-0.94},{"x":0.88,"y":-0.94},{"x":1.1,"y":-0.94},{"x":1.32,"y":-0.94},
{"x":-0.33,"y":-1.12},{"x":-0.11,"y":-1.12},{"x":0.11,"y":-1.12},{"x":0.33,"y":-1.12},{"x":0.55,"y":-1.12},{"x":0.77,"y":-1.12},{"x":0.99,"y":-1.12},{"x":1.21,"y":-1.12},
{"x":0,"y":-1.3},{"x":0.22,"y":-1.3},{"x":0.44,"y":-1.3},{"x":0.66,"y":-1.3},{"x":0.88,"y":-1.3},
{"x":-0.97,"y":3.63},{"x":1.03,"y":3.31},{"x":1.39,"y":2.89},{"x":-0.78,"y":2.64},{"x":-0.4,"y":2.42},{"x":0.11,"y":2.67},{"x":0.3,"y":2.63},{"x":2.37,"y":2.35},{"x":0.75,"y":1.95},{"x":1.38,"y":1.9},{"x":-0.66,"y":1.81},{"x":-2.72,"y":1.81},{"x":-2.13,"y":1.41},{"x":-2.14,"y":1.11},{"x":-2.77,"y":0.69},{"x":-2.38,"y":0.64},{"x":-2.33,"y":0.74},{"x":-2.08,"y":0.32},{"x":-2.29,"y":0.22},{"x":-2.41,"y":0.05},{"x":-3.1,"y":-0.11},{"x":-3.31,"y":-0.46},{"x":-2.51,"y":-0.41},{"x":-2.77,"y":-0.67},{"x":-2.13,"y":-1.21},{"x":-2.37,"y":-1.7},{"x":-1.35,"y":-2.3},{"x":-2.19,"y":-2.61},{"x":-0.26,"y":-2.59},{"x":-0.52,"y":-3.87},{"x":1.78,"y":1.53},{"x":2.11,"y":1.66},{"x":2.38,"y":1.4},{"x":2.38,"y":1.11},{"x":3.35,"y":1.2},{"x":3.21,"y":0.93},{"x":3.6,"y":0.83},{"x":4.02,"y":1.41},{"x":4.08,"y":0.68},{"x":4.86,"y":0.96},{"x":5.38,"y":0.36},{"x":3.8,"y":0.31},{"x":3.96,"y":0.18},{"x":3.31,"y":0.05},{"x":3.1,"y":-0.29},{"x":2.8,"y":-0.07},{"x":2.9,"y":0.45},{"x":2.7,"y":0.4},{"x":2.6,"y":0.8},{"x":2.65,"y":0.65},{"x":2.4,"y":0.8},{"x":2.3,"y":0.6},{"x":2.2,"y":0.3},{"x":2.5,"y":0.2},{"x":2.45,"y":0.0},{"x":2.2,"y":-0.1},{"x":2.1,"y":0.1},{"x":2.15,"y":0.55},{"x":2.0,"y":0.85},{"x":1.85,"y":1.05},{"x":1.7,"y":1.15},{"x":3.26,"y":-1.3},{"x":4.18,"y":-1.22},{"x":3.41,"y":-1.81},{"x":2.08,"y":-1.6},{"x":2.28,"y":-2.02},{"x":1.69,"y":-2.16},{"x":1.83,"y":-2.2},{"x":1.3,"y":-2.16},{"x":1.03,"y":-1.81},{"x":1.19,"y":-1.88},{"x":0.94,"y":-2.42},{"x":1.5,"y":-1.25},{"x":1.7,"y":-0.6},{"x":1.6,"y":-0.9},{"x":1.4,"y":-1.1},{"x":1.9,"y":-0.3},{"x":2.0,"y":-0.5},{"x":1.2,"y":-1.35},{"x":0.9,"y":-1.45},{"x":0.6,"y":-1.5},{"x":0.4,"y":-1.45},{"x":-1.3,"y":1.35},{"x":-1.1,"y":1.4},{"x":-0.9,"y":1.6},{"x":-0.5,"y":1.6},{"x":-0.2,"y":1.65},{"x":0.2,"y":1.7},{"x":0.5,"y":1.55},{"x":0.9,"y":1.5},{"x":1.15,"y":1.3},{"x":-1.5,"y":0.9},{"x":-1.6,"y":0.6},{"x":-1.75,"y":0.45},{"x":-1.85,"y":0.25},{"x":-1.9,"y":0.0},{"x":-1.8,"y":-0.2},{"x":-1.7,"y":-0.4},{"x":-1.6,"y":-0.6},{"x":-1.5,"y":-0.8},{"x":-1.4,"y":-1.0},{"x":-1.55,"y":0.2},{"x":-1.45,"y":-0.3},{"x":-1.3,"y":-0.55},{"x":-1.25,"y":-0.8},{"x":-1.2,"y":-1.1},{"x":-1.65,"y":0.8},{"x":-2.0,"y":0.55},{"x":-1.95,"y":-0.55},
{"x":-1.36,"y":0.45,"c":"y"},{"x":-1.58,"y":-0.58,"c":"y"},{"x":-1.36,"y":-1.22,"c":"y"},{"x":0.14,"y":-0.77,"c":"y"},{"x":-0.23,"y":-0.13,"c":"y"},{"x":-0.33,"y":-0.36,"c":"y"},{"x":0.08,"y":-1.37,"c":"y"},{"x":0.16,"y":-1.61,"c":"y"},{"x":1.29,"y":-1.47,"c":"y"},{"x":0.72,"y":-1.79,"c":"y"},{"x":0.38,"y":-1.97,"c":"y"},{"x":0.28,"y":-2.09,"c":"y"},{"x":0.99,"y":-2.35,"c":"y"},{"x":1.05,"y":-2.58,"c":"y"},{"x":-0.72,"y":-2.44,"c":"y"},{"x":-0.24,"y":-2.42,"c":"y"},{"x":0,"y":-2.33,"c":"y"},{"x":0.09,"y":-2.35,"c":"y"},{"x":-0.05,"y":-2.09,"c":"y"},{"x":-0.38,"y":-2.0,"c":"y"},{"x":-0.33,"y":-2.09,"c":"y"},{"x":-0.66,"y":-2.0,"c":"y"},{"x":-0.52,"y":-1.72,"c":"y"},{"x":-0.11,"y":-1.91,"c":"y"},{"x":-1.0,"y":-1.63,"c":"y"},
{"x":-1.1,"y":-0.25,"c":"y"},{"x":-0.9,"y":-0.25,"c":"y"},{"x":-0.7,"y":-0.25,"c":"y"},{"x":-0.5,"y":-0.25,"c":"y"},{"x":-0.3,"y":-0.25,"c":"y"},{"x":-1.05,"y":-0.4,"c":"y"},{"x":-0.85,"y":-0.4,"c":"y"},{"x":-0.65,"y":-0.4,"c":"y"},{"x":-0.45,"y":-0.4,"c":"y"},{"x":-0.25,"y":-0.4,"c":"y"},{"x":-1.1,"y":-0.55,"c":"y"},{"x":-0.9,"y":-0.55,"c":"y"},{"x":-0.7,"y":-0.55,"c":"y"},{"x":-0.5,"y":-0.55,"c":"y"},{"x":-0.3,"y":-0.55,"c":"y"},{"x":-1.05,"y":-0.7,"c":"y"},{"x":-0.85,"y":-0.7,"c":"y"},{"x":-0.65,"y":-0.7,"c":"y"},{"x":-0.45,"y":-0.7,"c":"y"},{"x":-0.25,"y":-0.7,"c":"y"},{"x":-1.1,"y":-0.85,"c":"y"},{"x":-0.9,"y":-0.85,"c":"y"},{"x":-0.7,"y":-0.85,"c":"y"},{"x":-0.5,"y":-0.85,"c":"y"},{"x":-0.3,"y":-0.85,"c":"y"},{"x":-0.15,"y":-0.85,"c":"y"},{"x":-1.05,"y":-1.0,"c":"y"},{"x":-0.85,"y":-1.0,"c":"y"},{"x":-0.65,"y":-1.0,"c":"y"},{"x":-0.45,"y":-1.0,"c":"y"},{"x":-0.25,"y":-1.0,"c":"y"},{"x":-1.0,"y":-1.15,"c":"y"},{"x":-0.8,"y":-1.15,"c":"y"},{"x":-0.6,"y":-1.15,"c":"y"},{"x":-0.4,"y":-1.15,"c":"y"},{"x":-0.2,"y":-1.15,"c":"y"},{"x":-0.95,"y":-1.3,"c":"y"},{"x":-0.75,"y":-1.3,"c":"y"},{"x":-0.55,"y":-1.3,"c":"y"},{"x":-0.35,"y":-1.3,"c":"y"},{"x":-0.15,"y":-1.3,"c":"y"},{"x":-0.85,"y":-1.45,"c":"y"},{"x":-0.65,"y":-1.45,"c":"y"},{"x":-0.45,"y":-1.45,"c":"y"},{"x":-0.25,"y":-1.45,"c":"y"},{"x":-0.5,"y":-1.6,"c":"y"},{"x":-0.3,"y":-1.6,"c":"y"},{"x":-0.1,"y":-1.6,"c":"y"},
{"x":-0.08,"y":2.59,"c":"k"}]
},
"concat":[
{"width":355,"height":355,
"title":{"text":"A","anchor":"start","frame":"group","dx":-82,"offset":-9,"baseline":"alphabetic","fontSize":22,"fontWeight":"bold","font":"Liberation Sans","color":"#231f20"},
"layer":[
{"data":{"name":"a"},"transform":[{"filter":"!datum.c"}],"mark":{"type":"circle","size":62,"color":"#bdbdbd","opacity":1},
"encoding":{"x":{"field":"x","type":"quantitative","scale":{"domain":[-4,6],"nice":false,"zero":false},"axis":{"values":[-4,-2,0,2,4,6],"labelExpr":"datum.value==-4?'':''+datum.value","title":"log₂ mRNA change (+/– 3-AT)","labelPadding":10,"titlePadding":10}},
"y":{"field":"y","type":"quantitative","scale":{"domain":[-4,6],"nice":false,"zero":false},"axis":{"values":[-4,-2,0,2,4,6],"labelExpr":"datum.value==-4?'':''+datum.value","title":"log₂ TE change (+/– 3-AT)","labelPadding":10,"titlePadding":14}}}},
{"data":{"name":"a"},"transform":[{"filter":"datum.c=='r'"}],"mark":{"type":"circle","size":58,"color":"#ec1c24","opacity":1},"encoding":{"x":{"field":"x","type":"quantitative"},"y":{"field":"y","type":"quantitative"}}},
{"data":{"name":"a"},"transform":[{"filter":"datum.c=='k'"}],"mark":{"type":"circle","size":45,"color":"#000000","opacity":1},"encoding":{"x":{"field":"x","type":"quantitative"},"y":{"field":"y","type":"quantitative"}}},
{"data":{"values":[{}]},"mark":{"type":"rule","strokeDash":[4,3],"color":"#3a3a3a","strokeWidth":1},"encoding":{"x":{"datum":-1}}},
{"data":{"values":[{}]},"mark":{"type":"rule","strokeDash":[4,3],"color":"#3a3a3a","strokeWidth":1},"encoding":{"x":{"datum":1}}},
{"data":{"values":[{}]},"mark":{"type":"rule","strokeDash":[4,3],"color":"#3a3a3a","strokeWidth":1},"encoding":{"y":{"datum":-1}}},
{"data":{"values":[{}]},"mark":{"type":"rule","strokeDash":[4,3],"color":"#3a3a3a","strokeWidth":1},"encoding":{"y":{"datum":1}}},
{"data":{"values":[{}]},"mark":{"type":"rule","color":"#231f20","strokeWidth":2.7},"encoding":{"x":{"datum":-1.83},"x2":{"datum":-0.62},"y":{"datum":1.88}}},
{"data":{"values":[{}]},"mark":{"type":"point","shape":"M-1,-0.55L1,0L-1,0.55Z","size":529,"filled":true,"color":"#231f20","opacity":1,"strokeWidth":0,"angle":0},"encoding":{"x":{"datum":-0.57},"y":{"datum":1.88}}},
{"data":{"values":[{}]},"mark":{"type":"text","text":"Wild type","align":"left","baseline":"alphabetic","fontSize":26,"font":"Liberation Sans","color":"#231f20"},"encoding":{"x":{"datum":2.7},"y":{"datum":4.79}}}
]},
{"width":355,"height":355,
"title":{"text":"B","anchor":"start","frame":"group","dx":-47,"offset":6,"baseline":"alphabetic","fontSize":22,"fontWeight":"bold","font":"Liberation Sans","color":"#231f20"},
"layer":[
{"data":{"name":"b"},"transform":[{"filter":"!datum.c"}],"mark":{"type":"circle","size":62,"color":"#bdbdbd","opacity":1},
"encoding":{"x":{"field":"x","type":"quantitative","scale":{"domain":[-4,6],"nice":false,"zero":false},"axis":{"values":[-4,-2,0,2,4,6],"labelExpr":"datum.value==-4?'':''+datum.value","title":"log₂ mRNA change (+/– 3-AT)","labelPadding":10,"titlePadding":10}},
"y":{"field":"y","type":"quantitative","scale":{"domain":[-4,6],"nice":false,"zero":false},"axis":{"values":[-4,-2,0,2,4,6],"labels":false,"title":null}}}},
{"data":{"name":"b"},"transform":[{"filter":"datum.c=='r'"}],"mark":{"type":"circle","size":58,"color":"#ec1c24","opacity":1},"encoding":{"x":{"field":"x","type":"quantitative"},"y":{"field":"y","type":"quantitative"}}},
{"data":{"name":"b"},"transform":[{"filter":"datum.c=='k'"}],"mark":{"type":"circle","size":45,"color":"#000000","opacity":1},"encoding":{"x":{"field":"x","type":"quantitative"},"y":{"field":"y","type":"quantitative"}}},
{"data":{"values":[{}]},"mark":{"type":"rule","strokeDash":[4,3],"color":"#3a3a3a","strokeWidth":1},"encoding":{"x":{"datum":-1}}},
{"data":{"values":[{}]},"mark":{"type":"rule","strokeDash":[4,3],"color":"#3a3a3a","strokeWidth":1},"encoding":{"x":{"datum":1}}},
{"data":{"values":[{}]},"mark":{"type":"rule","strokeDash":[4,3],"color":"#3a3a3a","strokeWidth":1},"encoding":{"y":{"datum":-1}}},
{"data":{"values":[{}]},"mark":{"type":"rule","strokeDash":[4,3],"color":"#3a3a3a","strokeWidth":1},"encoding":{"y":{"datum":1}}},
{"data":{"values":[{}]},"mark":{"type":"rule","color":"#231f20","strokeWidth":2.7},"encoding":{"x":{"datum":-1.86},"x2":{"datum":-0.66},"y":{"datum":-1.2}}},
{"data":{"values":[{}]},"mark":{"type":"point","shape":"M-1,-0.55L1,0L-1,0.55Z","size":529,"filled":true,"color":"#231f20","opacity":1,"strokeWidth":0,"angle":0},"encoding":{"x":{"datum":-0.63},"y":{"datum":-1.2}}},
{"data":{"values":[{}]},"mark":{"type":"text","text":"gcn2Δ","align":"left","baseline":"alphabetic","fontSize":26,"fontStyle":"italic","font":"Liberation Sans","color":"#231f20"},"encoding":{"x":{"datum":3.3},"y":{"datum":4.79}}}
]},
{"width":355,"height":355,
"title":{"text":"C","anchor":"start","frame":"group","dx":-82,"offset":-10,"baseline":"alphabetic","fontSize":22,"fontWeight":"bold","font":"Liberation Sans","color":"#231f20"},
"layer":[
{"data":{"name":"c"},"transform":[{"filter":"!datum.c"}],"mark":{"type":"circle","size":62,"color":"#bdbdbd","opacity":1},
"encoding":{"x":{"field":"x","type":"quantitative","scale":{"domain":[-4,6],"nice":false,"zero":false},"axis":{"values":[-4,-2,0,2,4,6],"labelExpr":"datum.value==-4?'':''+datum.value","title":"log₂ mRNA change (+/– 3-AT)","labelPadding":10,"titlePadding":10}},
"y":{"field":"y","type":"quantitative","scale":{"domain":[-4,6],"nice":false,"zero":false},"axis":{"values":[-4,-2,0,2,4,6],"labelExpr":"datum.value==-4?'':''+datum.value","title":"log₂ TE change (+/– 3-AT)","labelPadding":10,"titlePadding":14}}}},
{"data":{"name":"c"},"transform":[{"filter":"datum.c=='y'"}],"mark":{"type":"circle","size":58,"color":"#f1e51b","opacity":1},"encoding":{"x":{"field":"x","type":"quantitative"},"y":{"field":"y","type":"quantitative"}}},
{"data":{"name":"c"},"transform":[{"filter":"datum.c=='k'"}],"mark":{"type":"circle","size":45,"color":"#000000","opacity":1},"encoding":{"x":{"field":"x","type":"quantitative"},"y":{"field":"y","type":"quantitative"}}},
{"data":{"values":[{}]},"mark":{"type":"rule","strokeDash":[4,3],"color":"#3a3a3a","strokeWidth":1},"encoding":{"x":{"datum":-1}}},
{"data":{"values":[{}]},"mark":{"type":"rule","strokeDash":[4,3],"color":"#3a3a3a","strokeWidth":1},"encoding":{"x":{"datum":1}}},
{"data":{"values":[{}]},"mark":{"type":"rule","strokeDash":[4,3],"color":"#3a3a3a","strokeWidth":1},"encoding":{"y":{"datum":-1}}},
{"data":{"values":[{}]},"mark":{"type":"rule","strokeDash":[4,3],"color":"#3a3a3a","strokeWidth":1},"encoding":{"y":{"datum":1}}},
{"data":{"values":[{}]},"mark":{"type":"rule","color":"#231f20","strokeWidth":2.7},"encoding":{"x":{"datum":1.79},"y":{"datum":2.47},"x2":{"datum":1.1},"y2":{"datum":1.8}}},
{"data":{"values":[{}]},"mark":{"type":"point","shape":"M-1,-0.55L1,0L-1,0.55Z","size":529,"filled":true,"color":"#231f20","opacity":1,"strokeWidth":0,"angle":136},"encoding":{"x":{"datum":0.94},"y":{"datum":1.64}}},
{"data":{"values":[{}]},"mark":{"type":"text","text":"Wild type","align":"left","baseline":"alphabetic","fontSize":26,"font":"Liberation Sans","color":"#231f20"},"encoding":{"x":{"datum":1.8},"y":{"datum":4.82}}},
{"data":{"values":[{}]},"mark":{"type":"text","text":"+ CHX","align":"left","baseline":"alphabetic","fontSize":26,"font":"Liberation Sans","color":"#231f20"},"encoding":{"x":{"datum":1.8},"y":{"datum":3.93}}}
]},
{"width":355,"height":355,
"title":{"text":"D","anchor":"start","frame":"group","dx":-47,"offset":4,"baseline":"alphabetic","fontSize":22,"fontWeight":"bold","font":"Liberation Sans","color":"#231f20"},
"layer":[
{"data":{"name":"d"},"transform":[{"filter":"!datum.c"}],"mark":{"type":"circle","size":62,"color":"#bdbdbd","opacity":1},
"encoding":{"x":{"field":"x","type":"quantitative","scale":{"domain":[-4,6],"nice":false,"zero":false},"axis":{"values":[-4,-2,0,2,4,6],"labelExpr":"datum.value==-4?'':''+datum.value","title":"log₂ mRNA change (+/– 3-AT)","labelPadding":10,"titlePadding":10}},
"y":{"field":"y","type":"quantitative","scale":{"domain":[-4,6],"nice":false,"zero":false},"axis":{"values":[-4,-2,0,2,4,6],"labels":false,"title":null}}}},
{"data":{"name":"d"},"transform":[{"filter":"datum.c=='y'"}],"mark":{"type":"circle","size":58,"color":"#f1e51b","opacity":1},"encoding":{"x":{"field":"x","type":"quantitative"},"y":{"field":"y","type":"quantitative"}}},
{"data":{"name":"d"},"transform":[{"filter":"datum.c=='k'"}],"mark":{"type":"circle","size":45,"color":"#000000","opacity":1},"encoding":{"x":{"field":"x","type":"quantitative"},"y":{"field":"y","type":"quantitative"}}},
{"data":{"values":[{}]},"mark":{"type":"rule","strokeDash":[4,3],"color":"#3a3a3a","strokeWidth":1},"encoding":{"x":{"datum":-1}}},
{"data":{"values":[{}]},"mark":{"type":"rule","strokeDash":[4,3],"color":"#3a3a3a","strokeWidth":1},"encoding":{"x":{"datum":1}}},
{"data":{"values":[{}]},"mark":{"type":"rule","strokeDash":[4,3],"color":"#3a3a3a","strokeWidth":1},"encoding":{"y":{"datum":-1}}},
{"data":{"values":[{}]},"mark":{"type":"rule","strokeDash":[4,3],"color":"#3a3a3a","strokeWidth":1},"encoding":{"y":{"datum":1}}},
{"data":{"values":[{}]},"mark":{"type":"rule","color":"#231f20","strokeWidth":2.7},"encoding":{"x":{"datum":-0.1},"y":{"datum":4.47},"y2":{"datum":3.4}}},
{"data":{"values":[{}]},"mark":{"type":"point","shape":"M-1,-0.55L1,0L-1,0.55Z","size":529,"filled":true,"color":"#231f20","opacity":1,"strokeWidth":0,"angle":90},"encoding":{"x":{"datum":-0.1},"y":{"datum":3.24}}},
{"data":{"values":[{}]},"mark":{"type":"text","text":"Wild type","align":"left","baseline":"alphabetic","fontSize":26,"font":"Liberation Sans","color":"#231f20"},"encoding":{"x":{"datum":1.75},"y":{"datum":4.82}}},
{"data":{"values":[{}]},"mark":{"type":"text","text":"– CHX","align":"left","baseline":"alphabetic","fontSize":26,"font":"Liberation Sans","color":"#231f20"},"encoding":{"x":{"datum":1.75},"y":{"datum":3.93}}}
]}
]
}
